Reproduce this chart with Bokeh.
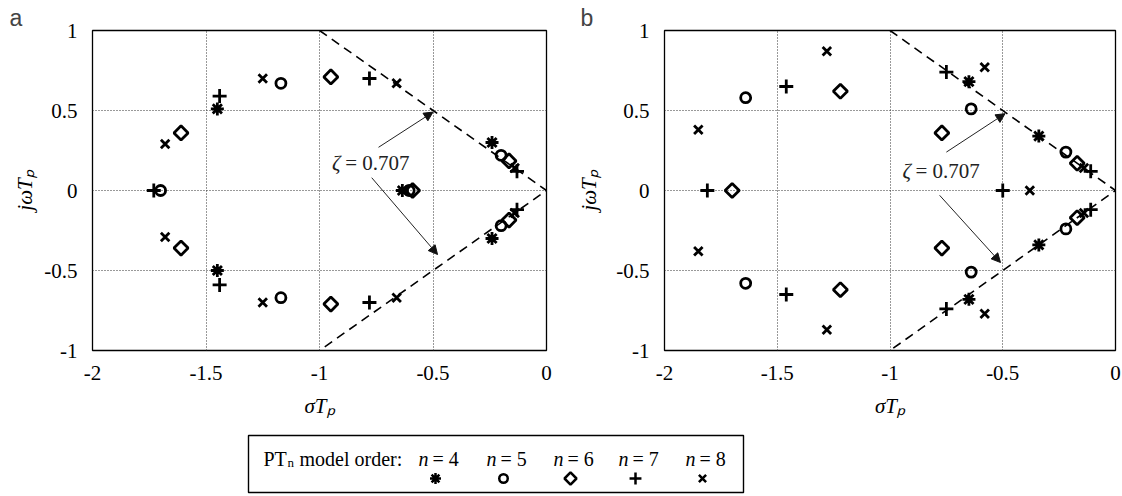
import math
from bokeh.plotting import figure
from bokeh.layouts import column, row
from bokeh.models import Range1d, FixedTicker, Label, Arrow, NormalHead
from bokeh.embed import file_html
from bokeh.resources import INLINE
from bokeh.core.properties import value

# ---------------- data ----------------
x_ticks = [-2, -1.5, -1, -0.5, 0]
x_tick_labels = ["-2", "-1.5", "-1", "-0.5", "0"]
y_ticks = [-1, -0.5, 0, 0.5, 1]
y_tick_labels = ["-1", "-0.5", "0", "0.5", "1"]

orders = [4, 5, 6, 7, 8]

# panel a : (sigma*Tp, omega*Tp)
a_n4_sigma = [-1.45, -1.45, -0.24, -0.24, -0.635]
a_n4_omega = [0.51, -0.50, 0.30, -0.30, 0.0]
a_n5_sigma = [-1.70, -1.17, -1.17, -0.20, -0.20, -0.605]
a_n5_omega = [0.0, 0.67, -0.67, 0.22, -0.22, 0.0]
a_n6_sigma = [-1.61, -1.61, -0.95, -0.95, -0.165, -0.165, -0.59]
a_n6_omega = [0.36, -0.36, 0.71, -0.71, 0.185, -0.185, 0.0]
a_n7_sigma = [-1.73, -1.44, -1.44, -0.78, -0.78, -0.13, -0.13]
a_n7_omega = [0.0, 0.59, -0.59, 0.70, -0.70, 0.12, -0.12]
a_n8_sigma = [-1.68, -1.68, -1.25, -1.25, -0.66, -0.66, -0.14, -0.14]
a_n8_omega = [0.29, -0.29, 0.70, -0.70, 0.67, -0.67, 0.14, -0.14]

# panel b
b_n4_sigma = [-0.65, -0.65, -0.34, -0.34]
b_n4_omega = [0.68, -0.68, 0.34, -0.34]
b_n5_sigma = [-1.64, -1.64, -0.64, -0.64, -0.22, -0.22]
b_n5_omega = [0.58, -0.58, 0.51, -0.51, 0.24, -0.24]
b_n6_sigma = [-1.70, -1.22, -1.22, -0.77, -0.77, -0.17, -0.17]
b_n6_omega = [0.0, 0.62, -0.62, 0.36, -0.36, 0.17, -0.17]
b_n7_sigma = [-1.81, -1.46, -1.46, -0.75, -0.75, -0.50, -0.11, -0.11]
b_n7_omega = [0.0, 0.65, -0.65, 0.74, -0.74, 0.0, 0.12, -0.12]
b_n8_sigma = [-1.85, -1.85, -1.28, -1.28, -0.58, -0.58, -0.38, -0.14, -0.14]
b_n8_omega = [0.38, -0.38, 0.87, -0.87, 0.77, -0.77, 0.0, 0.14, -0.14]

# zeta = 0.707 boundary
zeta_x = [-1, 0, -1]
zeta_y = [1, 0, -1]
zeta_text = "0.707"

# annotation arrows (x_start, y_start, x_end, y_end)
a_arrows = [(-0.74, 0.27, -0.50, 0.49), (-0.77, 0.08, -0.48, -0.40)]
b_arrows = [(-0.75, 0.24, -0.49, 0.48), (-0.78, -0.03, -0.51, -0.45)]

x_label = "σTₚ"
y_label = "jωTₚ"

# ---------------- style ----------------
SERIF = "Liberation Serif"
SANS = "Liberation Sans"
marker_style = {
    4: dict(marker="asterisk", size=13, angle=0.0),
    5: dict(marker="circle", size=10, angle=0.0),
    6: dict(marker="square", size=10, angle=math.pi / 4),
    7: dict(marker="cross", size=14, angle=0.0),
    8: dict(marker="x", size=12, angle=0.0),
}


def make_panel(letter, series, arrows, zeta_pos, border_left, border_right, width,
               ylabel_standoff, letter_offset):
    p = figure(width=width, height=420, output_backend="svg", toolbar_location=None,
               x_range=Range1d(-2, 0), y_range=Range1d(-1, 1),
               min_border_left=border_left, min_border_right=border_right,
               min_border_top=30, min_border_bottom=69,
               background_fill_color="white", border_fill_color="white")
    p.title.text = letter
    p.title.text_font = SANS
    p.title.text_font_size = "23px"
    p.title.text_font_style = "normal"
    p.title.align = "left"
    p.title.offset = letter_offset
    p.title.standoff = 0
    p.outline_line_color = "black"
    p.outline_line_width = 1.3
    p.xaxis.ticker = FixedTicker(ticks=x_ticks)
    p.yaxis.ticker = FixedTicker(ticks=y_ticks)
    p.xaxis.major_label_overrides = {t: l for t, l in zip(x_ticks, x_tick_labels)}
    p.yaxis.major_label_overrides = {t: l for t, l in zip(y_ticks, y_tick_labels)}
    for ax in (p.xaxis[0], p.yaxis[0]):
        ax.axis_line_color = None
        ax.major_tick_line_color = None
        ax.minor_tick_line_color = None
        ax.major_label_text_font = SERIF
        ax.major_label_text_font_size = "21px"
        ax.major_label_text_color = "black"
        ax.axis_label_text_font = SERIF
        ax.axis_label_text_font_style = "italic"
        ax.axis_label_text_font_size = "21px"
        ax.axis_label_text_color = "black"
    p.xaxis.axis_label = x_label
    p.yaxis.axis_label = y_label
    p.xaxis.major_label_standoff = 9
    p.yaxis.major_label_standoff = 9
    p.xaxis.axis_label_standoff = 11
    p.yaxis.axis_label_standoff = ylabel_standoff
    for g in (p.xgrid[0], p.ygrid[0]):
        g.grid_line_color = "#333333"
        g.grid_line_dash = "1 2"
        g.grid_line_width = 1
    # zeta line
    p.line(zeta_x, zeta_y, line_color="black", line_width=1.6, line_dash="9 6")
    # markers
    for n, (sx, sy) in zip(orders, series):
        st = marker_style[n]
        p.scatter(sx, sy, marker=st["marker"], size=st["size"], angle=st["angle"],
                  line_color="black", fill_color=None, line_width=2.8)
    # arrows
    for (x0, y0, x1, y1) in arrows:
        p.add_layout(Arrow(x_start=x0, y_start=y0, x_end=x1, y_end=y1,
                           line_color="#222222", line_width=1,
                           end=NormalHead(size=9, fill_color="#111111", line_color="#111111")))
    zx, zy = zeta_pos
    p.add_layout(Label(x=zx, y=zy, text="ζ", text_font=SERIF, text_font_style="italic",
                       text_font_size="21px", text_baseline="middle", text_color="#222222"))
    p.add_layout(Label(x=zx + 0.058, y=zy, text="= " + zeta_text, text_font=SERIF,
                       text_font_size="21px", text_baseline="middle", text_color="#222222"))
    return p


series_a = [(a_n4_sigma, a_n4_omega), (a_n5_sigma, a_n5_omega), (a_n6_sigma, a_n6_omega),
            (a_n7_sigma, a_n7_omega), (a_n8_sigma, a_n8_omega)]
series_b = [(b_n4_sigma, b_n4_omega), (b_n5_sigma, b_n5_omega), (b_n6_sigma, b_n6_omega),
            (b_n7_sigma, b_n7_omega), (b_n8_sigma, b_n8_omega)]

pa = make_panel("a", series_a, a_arrows, (-0.945, 0.17), 92, 15, 561, 4, -83)
pb = make_panel("b", series_b, b_arrows, (-0.945, 0.12), 103, 7, 561, 12, -84)

# ---------------- legend strip ----------------
leg = figure(width=1122, height=76, output_backend="svg", toolbar_location=None,
             x_range=Range1d(0, 1122), y_range=Range1d(76, 0),
             min_border=0, min_border_left=0, min_border_right=0,
             min_border_top=0, min_border_bottom=0)
leg.xaxis.visible = False
leg.yaxis.visible = False
leg.xgrid.visible = False
leg.ygrid.visible = False
leg.outline_line_color = None
leg.quad(left=[248], right=[743], top=[15], bottom=[72], fill_color=None,
         line_color="black", line_width=1.4)
leg.text(x=[263], y=[38], text=["PT"], text_font=value(SERIF), text_font_size="20px",
         text_baseline="alphabetic")
leg.text(x=[287], y=[42], text=["n"], text_font=value(SERIF), text_font_size="13px",
         text_baseline="alphabetic")
leg.text(x=[299], y=[38], text=["model order:"], text_font=value(SERIF), text_font_size="20px",
         text_baseline="alphabetic")
leg_x = [435, 503, 570, 635, 702]
for n, cx in zip(orders, leg_x):
    leg.text(x=[cx - 7], y=[38], text=["n"], text_font=value(SERIF), text_font_style="italic",
             text_font_size="20px", text_baseline="alphabetic", text_align="right")
    leg.text(x=[cx - 3], y=[38], text=["= %d" % n], text_font=value(SERIF),
             text_font_size="20px", text_baseline="alphabetic", text_align="left")
    st = marker_style[n]
    leg.scatter([cx], [58], marker=st["marker"], size=st["size"] * 0.85, angle=st["angle"],
                line_color="black", fill_color=None, line_width=2.5)

layout = column(row(pa, pb), leg)
open("out.html", "w").write(file_html(layout, INLINE))
